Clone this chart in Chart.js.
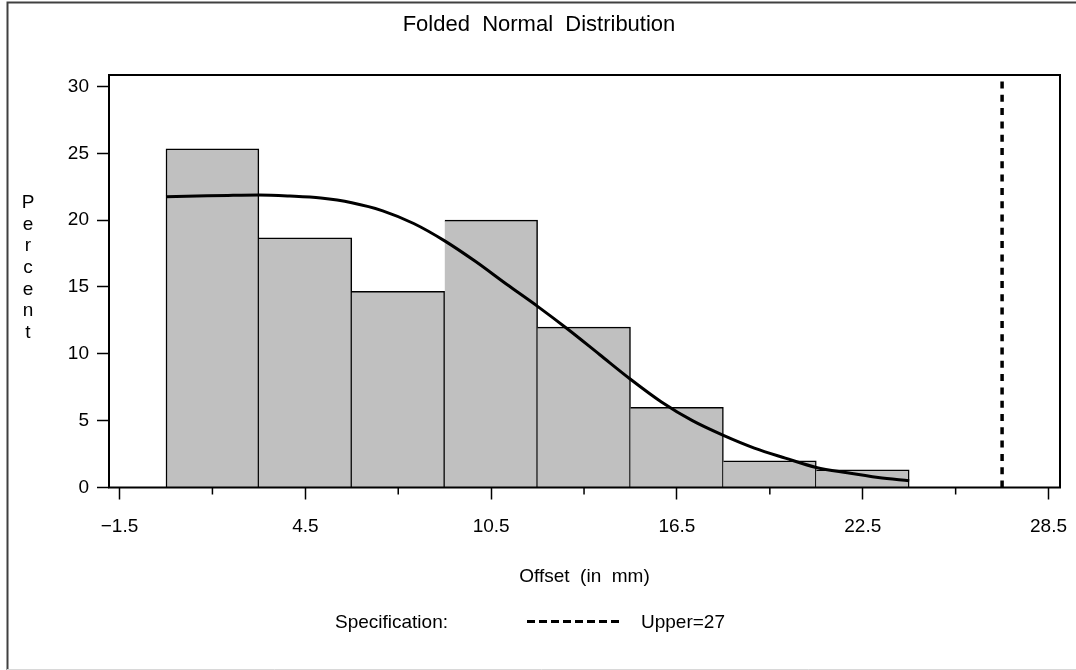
<!DOCTYPE html>
<html>
<head>
<meta charset="utf-8">
<script src="https://cdn.jsdelivr.net/npm/chart.js@4/dist/chart.umd.min.js"></script>
<style>
  html, body { margin: 0; padding: 0; background: #fff; }
  #wrap { width: 1076px; height: 670px; position: relative; }
</style>
</head>
<body>
<div id="wrap"><canvas id="foldedChart"></canvas></div>
<script>
// histogram bins (mm) and percent per bin
const binEdges = [0, 3, 6, 9, 12, 15, 18, 21, 24];
const binPercents = [25.33, 18.67, 14.67, 20, 12, 6, 2, 1.33];

// fitted folded normal curve
const curveX = [0, 1, 2, 3, 4, 5, 6, 7, 8, 9, 10, 11, 12, 13, 14, 15, 16, 17, 18, 19, 20, 21, 22, 23, 24];
const curveY = [21.75, 21.8, 21.85, 21.88, 21.8, 21.65, 21.3, 20.7, 19.75, 18.45, 16.9, 15.2, 13.55, 11.8, 9.95, 8.1, 6.4, 5.0, 3.9, 2.95, 2.2, 1.5, 1.1, 0.75, 0.5];

// axes
const xTicks = [-1.5, 1.5, 4.5, 7.5, 10.5, 13.5, 16.5, 19.5, 22.5, 25.5, 28.5];
const xLabelTicks = [-1.5, 4.5, 10.5, 16.5, 22.5, 28.5];
const yTicks = [0, 5, 10, 15, 20, 25, 30];
const upperSpec = 27;

const X_MIN = -1.84, X_MAX = 28.87, Y_MAX = 30.86;
const FONT = '"Liberation Sans", Arial, sans-serif';

const barData = binPercents.map((v, i) => ({ x: (binEdges[i] + binEdges[i + 1]) / 2, y: v }));
const curveData = curveX.map((x, i) => ({ x: x, y: curveY[i] }));
const specData = [{ x: upperSpec, y: 0 }, { x: upperSpec, y: Y_MAX }];

const decor = {
  id: 'decor',
  beforeDraw(chart) {
    const ctx = chart.ctx;
    ctx.save();
    ctx.fillStyle = '#fff';
    ctx.fillRect(0, 0, chart.width, chart.height);
    // outer border
    ctx.strokeStyle = '#404040';
    ctx.lineWidth = 2;
    ctx.beginPath();
    ctx.moveTo(1080, 2.5);
    ctx.lineTo(7.5, 2.5);
    ctx.lineTo(7.5, 670);
    ctx.stroke();
    ctx.strokeStyle = '#d8d8d8';
    ctx.lineWidth = 1;
    ctx.beginPath();
    ctx.moveTo(7, 669.5);
    ctx.lineTo(1076, 669.5);
    ctx.stroke();
    ctx.restore();
  },
  afterDraw(chart) {
    const ctx = chart.ctx;
    const a = chart.chartArea;
    const xs = chart.scales.x;
    ctx.save();
    // plot frame
    ctx.strokeStyle = '#000';
    ctx.lineWidth = 2;
    ctx.strokeRect(a.left, a.top, a.right - a.left, a.bottom - a.top);
    // minor x ticks
    ctx.lineWidth = 1.5;
    ctx.beginPath();
    xTicks.filter(v => !xLabelTicks.includes(v)).forEach(v => {
      const px = xs.getPixelForValue(v);
      ctx.moveTo(px, a.bottom);
      ctx.lineTo(px, a.bottom + 7);
    });
    ctx.stroke();

    ctx.fillStyle = '#000';
    ctx.textAlign = 'center';
    ctx.textBaseline = 'alphabetic';
    ctx.font = '22px ' + FONT;
    ctx.fillText('Folded  Normal  Distribution', 539, 31);

    ctx.font = '19px ' + FONT;
    ctx.fillText('Offset  (in  mm)', (a.left + a.right) / 2, 582);

    ctx.textBaseline = 'middle';
    'Percent'.split('').forEach((ch, i) => ctx.fillText(ch, 28, 203 + i * 21.6));

    ctx.textBaseline = 'alphabetic';
    ctx.textAlign = 'left';
    ctx.fillText('Specification:', 335, 628);
    ctx.fillText('Upper=27', 641, 628);

    ctx.lineWidth = 3;
    ctx.setLineDash([8, 4]);
    ctx.beginPath();
    ctx.moveTo(527, 621.5);
    ctx.lineTo(622, 621.5);
    ctx.stroke();
    ctx.restore();
  }
};

new Chart(document.getElementById('foldedChart'), {
  data: {
    datasets: [{
      type: 'line',
      data: curveData,
      borderColor: '#000',
      borderWidth: 3,
      pointRadius: 0,
      cubicInterpolationMode: 'monotone',
      order: 1
    }, {
      type: 'line',
      data: specData,
      borderColor: '#000',
      borderWidth: 3.5,
      borderDash: [7, 6.3],
      pointRadius: 0,
      order: 2
    }, {
      type: 'bar',
      data: barData,
      backgroundColor: '#c0c0c0',
      borderColor: '#000',
      borderWidth: ctx => ({ left: ctx.dataIndex === 0 ? 1.5 : 0, right: 1.5, top: 1.5, bottom: 0 }),
      borderSkipped: false,
      barPercentage: 1,
      categoryPercentage: 1,
      order: 3
    }]
  },
  options: {
    responsive: true,
    maintainAspectRatio: false,
    animation: false,
    events: [],
    layout: { padding: { top: 75, right: 16, left: 0, bottom: 0 } },
    plugins: { legend: { display: false }, tooltip: { enabled: false }, title: { display: false } },
    scales: {
      x: {
        type: 'linear',
        offset: false,
        min: X_MIN,
        max: X_MAX,
        afterBuildTicks: s => { s.ticks = xTicks.map(v => ({ value: v })); },
        afterFit: s => { s.height = 182.5; s.paddingLeft = 0; s.paddingRight = 0; },
        ticks: {
          autoSkip: false,
          maxRotation: 0,
          color: '#000',
          font: { family: FONT, size: 19 },
          padding: 16,
          callback: v => xLabelTicks.includes(v) ? (v < 0 ? '\u2212' + Math.abs(v) : String(v)) : ''
        },
        grid: {
          offset: false,
          drawOnChartArea: false,
          tickLength: 12,
          tickWidth: 1.5,
          tickColor: c => (c.tick && xLabelTicks.includes(c.tick.value)) ? '#000' : 'rgba(0,0,0,0)'
        },
        border: { display: false }
      },
      y: {
        type: 'linear',
        min: 0,
        max: Y_MAX,
        afterBuildTicks: s => { s.ticks = yTicks.map(v => ({ value: v })); },
        afterFit: s => { s.width = 109; s.paddingTop = 0; s.paddingBottom = 0; },
        ticks: {
          color: '#000',
          font: { family: FONT, size: 19 },
          padding: 8
        },
        grid: { drawOnChartArea: false, tickLength: 12, tickWidth: 1.5, tickColor: '#000' },
        border: { display: false }
      }
    }
  },
  plugins: [decor]
});
</script>
</body>
</html>
